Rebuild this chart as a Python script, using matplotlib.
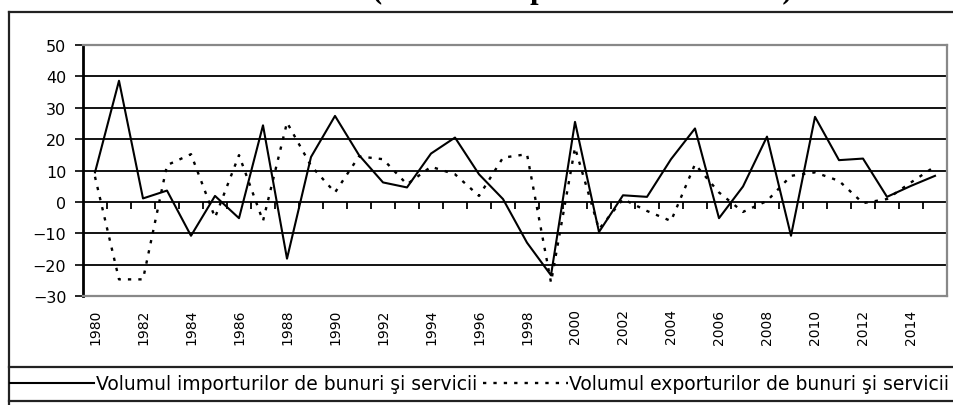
import matplotlib.pyplot as plt
from matplotlib.lines import Line2D

years = list(range(1980, 2016))

imports = [9.4, 38.6, 1.1, 3.6, -10.8, 1.9, -5.2, 24.4, -18.1, 14.3,
           27.4, 14.9, 6.2, 4.6, 15.4, 20.5, 8.8, 0.9, -13.0, -23.4,
           25.5, -9.6, 2.1, 1.6, 13.6, 23.4, -5.2, 4.9, 20.8, -10.8,
           27.1, 13.3, 13.8, 1.6, 5.1, 8.3]

exports = [8.0, -24.7, -24.7, 11.7, 15.2, -5.0, 14.9, -6.1, 25.3, 11.5,
           3.0, 14.5, 13.6, 5.6, 11.2, 8.8, 1.9, 14.1, 15.2, -25.7,
           17.3, -8.7, 0.9, -2.9, -6.1, 12.0, 3.0, -3.2, 0.3, 8.3,
           9.4, 6.7, -0.4, 0.9, 6.2, 11.3]

label_imp = "Volumul importurilor de bunuri şi servicii"
label_exp = "Volumul exporturilor de bunuri şi servicii"
title = "(modificare procentuală anuală)"

W, H = 954, 406
fig = plt.figure(figsize=(W / 100, H / 100), dpi=100)
ax = fig.add_axes([83 / W, 1 - 297 / H, (947 - 83) / W, (297 - 46) / H])

ax.plot(years, imports, color="black", lw=1.5, label=label_imp)
ax.plot(years, exports, color="black", lw=1.7, linestyle=(0, (1.4, 3.0)), label=label_exp)

ax.set_xlim(1979.5, 2015.5)
ax.set_ylim(-30, 50)
ax.set_yticks(range(-30, 51, 10))
for v in range(-20, 50, 10):
    ax.axhline(v, color="black", lw=1.3, zorder=0)

ax.set_xticks(years[::2])
ax.set_xticklabels([str(y) for y in years[::2]], rotation=90,
                   fontsize=10, family="DejaVu Sans")
ax.tick_params(axis="x", length=0, pad=9)
ax.tick_params(axis="y", length=6, width=1.2, pad=6, labelsize=11.5)
for t in ax.get_yticklabels():
    t.set_family("DejaVu Sans")

for side in ["top", "right", "bottom"]:
    ax.spines[side].set_color("#888888")
    ax.spines[side].set_linewidth(1.6)
ax.spines["left"].set_linewidth(2)

# category tick marks on the zero line
sec = ax.secondary_xaxis(30 / 80)
sec.set_xticks([y - 0.5 for y in years[1:]])
sec.set_xticklabels([])
sec.tick_params(axis="x", direction="out", length=5, width=1.3)
sec.spines["bottom"].set_visible(False)

# outer chart frame and legend box
frame = dict(color="#222222", lw=1.6, transform=fig.transFigure)
fig.add_artist(Line2D([9 / W, 1], [1 - 13 / H, 1 - 13 / H], **frame))
fig.add_artist(Line2D([9 / W, 9 / W], [0, 1 - 13 / H], **frame))
fig.add_artist(Line2D([9 / W, 1], [1 - 368 / H, 1 - 368 / H], **frame))
fig.add_artist(Line2D([9 / W, 1], [1 - 402 / H, 1 - 402 / H], **frame))

fig.legend(loc="center left", bbox_to_anchor=(10 / W, 1 - 385 / H), ncol=2,
           frameon=False, borderpad=0, borderaxespad=0, handlelength=4.5,
           handletextpad=0.1, columnspacing=0.3,
           prop={"family": "DejaVu Sans", "size": 13.5})

# title sits above the visible area; only its descenders show
fig.text(582 / W, 1 + 2 / H, title, ha="center", va="baseline",
         family="Liberation Serif", weight="bold", fontsize=22)

fig.savefig("out.png", dpi=100)
